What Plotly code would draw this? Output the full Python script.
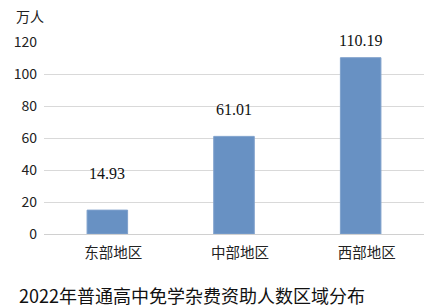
import plotly.graph_objects as go

categories = ["东部地区", "中部地区", "西部地区"]
values = [14.93, 61.01, 110.19]
label_texts = ["14.93", "61.01", "110.19"]
label_shifts = [37, 27, 17]  # px above bar top, as in the reference
y_ticks = [0, 20, 40, 60, 80, 100, 120]
title_text = "2022年普通高中免学杂费资助人数区域分布"
unit_text = "万人"

sans = "Noto Sans CJK SC, Noto Sans, sans-serif"

fig = go.Figure()
fig.add_trace(go.Bar(
    x=categories, y=values,
    marker=dict(color="#6891c3", line=dict(color="#7fa1cc", width=1)),
    width=0.32,
    hoverinfo="x+y",
))

for c, v, t, s in zip(categories, values, label_texts, label_shifts):
    fig.add_annotation(x=c, y=v, text=t, showarrow=False, yshift=s,
                       xref="x", yref="y",
                       font=dict(family="Liberation Serif, serif", size=16, color="#111"))

fig.add_annotation(xref="paper", yref="paper", x=-0.08, y=1.0, yshift=26,
                   xanchor="left", yanchor="middle", text=unit_text, showarrow=False,
                   font=dict(family=sans, size=14, color="#222"))
fig.add_annotation(xref="paper", yref="paper", x=-0.072, y=0, yshift=-61,
                   xanchor="left", yanchor="middle", text=title_text, showarrow=False,
                   font=dict(family=sans, size=18, color="#111"))

fig.update_layout(
    width=432, height=308,
    margin=dict(l=44, r=8, t=42, b=74),
    plot_bgcolor="white", paper_bgcolor="white",
    showlegend=False,
    xaxis=dict(showgrid=False, showline=False, ticks="",
               ticklabelstandoff=8, ticklabelshift=6,
               tickfont=dict(family=sans, size=14.5, color="#222")),
    yaxis=dict(range=[0, 120], tickvals=y_ticks, showgrid=True,
               gridcolor="#d9d9d9", gridwidth=1,
               zeroline=True, zerolinecolor="#d0d0d0", zerolinewidth=1,
               ticks="", ticklabelstandoff=6,
               tickfont=dict(family=sans, size=14, color="#222")),
)

fig.write_html("out.html")
